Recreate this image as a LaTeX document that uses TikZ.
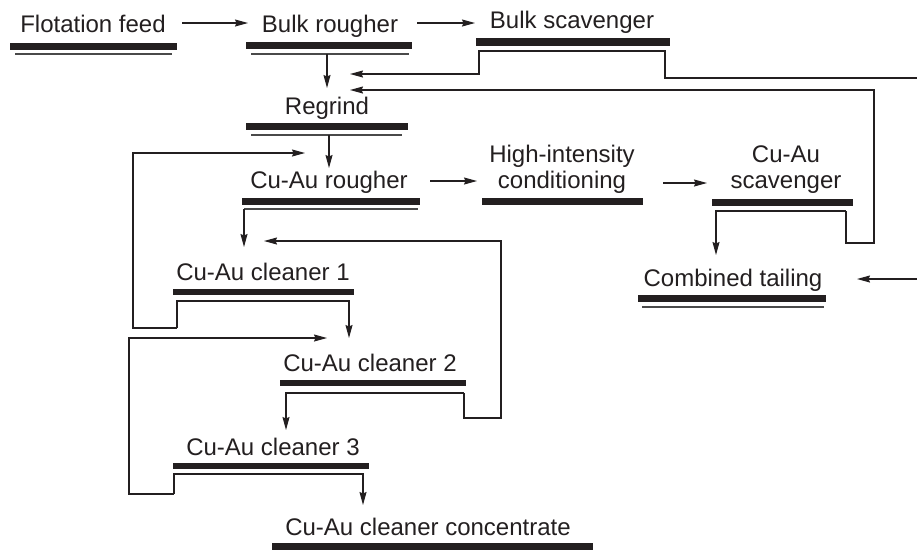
\documentclass[tikz,border=0pt]{standalone}
\usepackage{fontspec}
\setmainfont{Liberation Sans}
\usetikzlibrary{arrows.meta}
\definecolor{ink}{HTML}{231F20}
\definecolor{wire}{HTML}{4A4A4A}
\begin{document}
\begin{tikzpicture}[x=1pt,y=-1pt,
  lbl/.style={anchor=base, inner sep=0pt, font=\fontsize{24}{26}\selectfont, text=ink, align=center},
  bar/.style={fill=ink, draw=none},
  thinline/.style={draw=wire, line width=1.2pt},
  flow/.style={draw=ink, line width=1.2pt, -{Stealth[length=13pt,width=7pt,inset=1.5pt]}},
]
\useasboundingbox[fill=white] (0,0) rectangle (917,550);

% ---------- unit labels ----------
\node[lbl] (feed)    at (93,32)  {Flotation feed};
\node[lbl] (bulkr)   at (330,32) {Bulk rougher};
\node[lbl] (bulks)   at (572,28) {Bulk scavenger};
\node[lbl] (regrind) at (327,114) {Regrind};
\node[lbl] (cur)     at (329,188) {Cu-Au rougher};
\node[lbl] (hic)     at (562,188) {High-intensity\\conditioning};
\node[lbl] (cus)     at (786,188) {Cu-Au\\scavenger};
\node[lbl] (tail)    at (733,286) {Combined tailing};
\node[lbl] (cla)     at (263,280) {Cu-Au cleaner 1};
\node[lbl] (clb)     at (370,371) {Cu-Au cleaner 2};
\node[lbl] (clc)     at (273,455) {Cu-Au cleaner 3};
\node[lbl] (conc)    at (428,535) {Cu-Au cleaner concentrate};

% ---------- thick bars ----------
\fill[bar] (10,43)  rectangle (177,50);
\fill[bar] (246,42) rectangle (412,49);
\fill[bar] (476,38) rectangle (670,46);
\fill[bar] (246,123) rectangle (408,130);
\fill[bar] (242,198) rectangle (420,205);
\fill[bar] (482,198) rectangle (643,205);
\fill[bar] (712,199) rectangle (853,206);
\fill[bar] (638,295) rectangle (826,302);
\fill[bar] (173,289) rectangle (354,295);
\fill[bar] (280,380) rectangle (466,386);
\fill[bar] (173,463) rectangle (369,469);
\fill[bar] (272,543) rectangle (593,550);

% ---------- plain thin lines under bars ----------
\draw[thinline] (15,54) -- (172,54);
\draw[thinline] (251,54) -- (409,54);
\draw[thinline] (251,135) -- (402,135);
\draw[thinline] (244,209) -- (418,209);
\draw[thinline] (642,307) -- (824,307);

% ---------- connectors ----------
\coordinate (edgeA) at (917,78);
\coordinate (edgeB) at (917,279);

\draw[flow] (182,23) -- (248,23);
\draw[flow] (417,23) -- (475,23);
\draw[flow] (430,181) -- (477,181);
\draw[flow] (663,183) -- (707,183);

% bulk rougher -> regrind
\draw[flow] (327,54) -- (327,88);
% bulk scavenger split
\draw[flow] (edgeA) -- (665,78) -- (665,51) -- (479,51) -- (479,74) -- (350,74);
% regrind -> Cu-Au rougher
\draw[flow] (329,135) -- (329,168);
% Cu-Au rougher -> cleaner 1
\draw[flow] (244,209) -- (244,247);
% Cu-Au scavenger split
\draw[flow] (846,211) -- (716,211) -- (716,255);
\draw[flow] (846,211) -- (846,243) -- (874,243) -- (874,90) -- (350,90);
% cleaner 1 split
\draw[flow] (177,328) -- (177,301) -- (349,301) -- (349,338);
\draw[flow] (177,328) -- (133,328) -- (133,153) -- (305,153);
% cleaner 2 split
\draw[flow] (464,393) -- (286,393) -- (286,430);
\draw[flow] (464,393) -- (464,418) -- (501,418) -- (501,241) -- (264,241);
% cleaner 3 split
\draw[flow] (174,494) -- (174,474) -- (363,474) -- (363,505);
\draw[flow] (174,494) -- (129,494) -- (129,338) -- (327,338);
% into combined tailing
\draw[flow] (edgeB) -- (857,279);
\end{tikzpicture}
\end{document}
